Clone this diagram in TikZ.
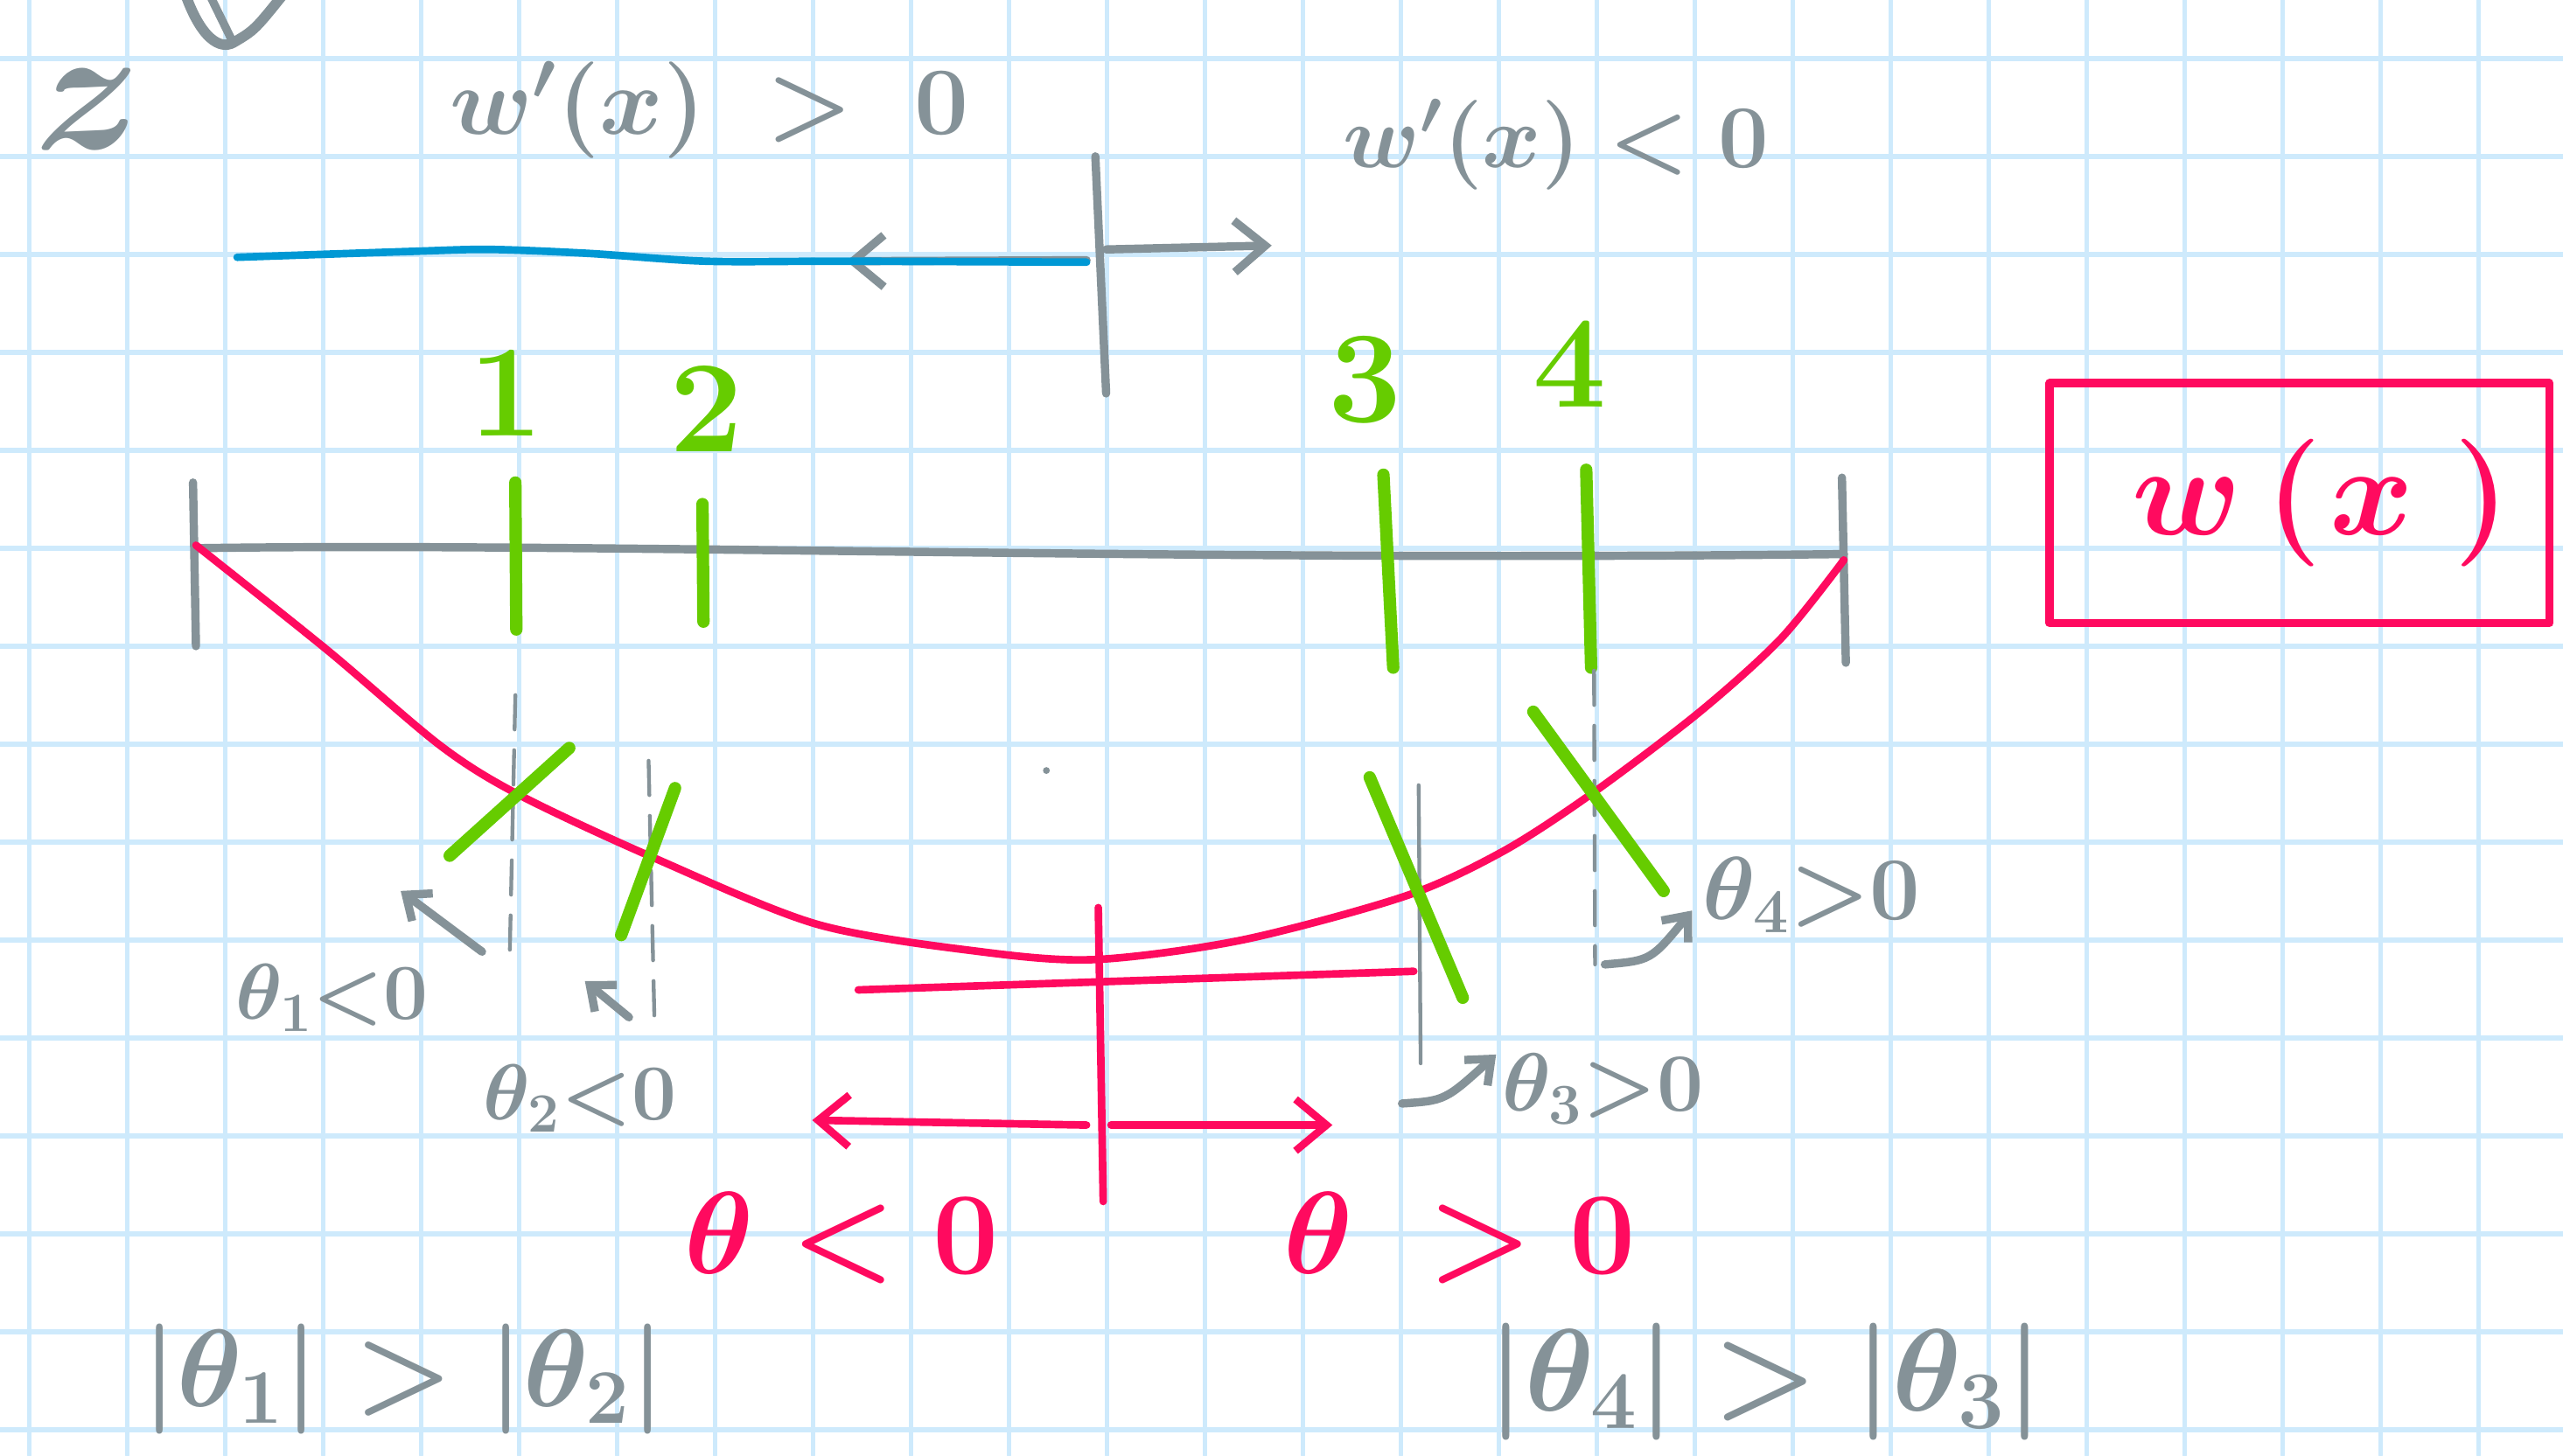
\RequirePackage{fix-cm}
\documentclass[tikz,border=0pt]{standalone}
\usepackage{amsmath}
\usepackage{xcolor}
\usetikzlibrary{arrows.meta, calc}

\definecolor{sketchgray}{RGB}{133,146,152}
\definecolor{sketchgreen}{RGB}{102,204,0}
\definecolor{sketchpink}{RGB}{255,10,95}
\definecolor{sketchblue}{RGB}{0,152,212}
\definecolor{paperline}{RGB}{206,234,252}

\begin{document}
\begin{tikzpicture}[
  line cap=round, line join=round,
  graypen/.style={draw=sketchgray, line width=2.4pt},
  hairline/.style={draw=sketchgray, line width=1.1pt},
  greenpen/.style={draw=sketchgreen, line width=3.6pt},
  pinkpen/.style={draw=sketchpink, line width=2.2pt},
  bluepen/.style={draw=sketchblue, line width=2.2pt},
  barb/.style={-{Straight Barb[length=9pt, width=15pt]}},
  smallbarb/.style={-{Straight Barb[length=6pt, width=10pt]}},
  grayword/.style={text=sketchgray, inner sep=0pt},
  greenword/.style={text=sketchgreen, inner sep=0pt, font=\fontsize{38}{42}\selectfont\bfseries},
  pinkword/.style={text=sketchpink, inner sep=0pt},
  bigsize/.style={font=\fontsize{34}{38}\selectfont\boldmath},
  smallsize/.style={font=\fontsize{23}{26}\selectfont\boldmath}
]

% ── Paper with grid ───────────────────────────────────────
\fill[white] (0,0) rectangle (26.16,14.857);
\useasboundingbox (0,0) rectangle (26.16,14.857);
\begin{scope}
  \clip (0,0) rectangle (26.16,14.857);
  \foreach \gx in {0,...,25}
    \draw[paperline, line width=1.2pt] (0.30+\gx,0) -- (0.30+\gx,14.857);
  \foreach \gy in {0,...,14}
    \draw[paperline, line width=1.4pt] (0,0.26+\gy) -- (26.16,0.26+\gy);
\end{scope}

% ── Top corner marks ──────────────────────────────────────
\draw[graypen, line width=3pt] (1.88,14.95) .. controls (2.05,14.45) and (2.25,14.35) .. (2.38,14.42)
      .. controls (2.6,14.55) .. (2.92,14.95);
\draw[graypen] (2.12,14.95) -- (2.36,14.46);
\node[grayword, font=\fontsize{52}{56}\selectfont\boldmath] (zmark) at (0.90,13.74) {$z$};

% ── Sign of w'(x) ─────────────────────────────────────────
\node[grayword, font=\fontsize{28}{32}\selectfont\boldmath] (wpos) at (7.24,13.73) {$w'(x) \;>\; 0$};
\node[grayword, font=\fontsize{26}{30}\selectfont\boldmath] (wneg) at (15.88,13.38) {$w'(x) < 0$};

\coordinate (tickTop) at (11.18,13.26);
\coordinate (tickBot) at (11.29,10.84);
\coordinate (tickL)   at (11.09,12.20);
\coordinate (tickR)   at (11.29,12.31);
\coordinate (headL)   at (8.64,12.19);
\coordinate (headR)   at (12.98,12.35);

\draw[graypen, barb] (tickL) -- (headL);
\draw[bluepen] plot[smooth] coordinates {(2.42,12.23) (4.2,12.29) (5.0,12.31) (6.0,12.27)
      (7.2,12.19) (8.6,12.19) (11.09,12.18)};
\draw[graypen] (tickTop) -- (tickBot);
\draw[graypen, barb] (tickR) -- (headR);

% ── Numbered points ───────────────────────────────────────
\node[greenword] (one)   at (5.17,10.84) {1};
\node[greenword] (two)   at (7.21,10.68) {2};
\node[greenword] (three) at (13.93,10.98) {3};
\node[greenword] (four)  at (16.02,11.14) {4};

% ── Axis ──────────────────────────────────────────────────
\coordinate (axL) at (2.00,9.26);
\coordinate (axR) at (18.82,9.20);
\draw[graypen] (axL) .. controls (6,9.32) and (12,9.12) .. (axR);
\draw[graypen] (1.97,9.93) -- (2.00,8.26);
\draw[graypen] (18.80,9.98) -- (18.84,8.09);

\draw[greenpen] (5.26,9.93)  -- (5.27,8.43);
\draw[greenpen] (7.17,9.71)  -- (7.18,8.51);
\draw[greenpen] (14.12,10.01) -- (14.22,8.04);
\draw[greenpen] (16.19,10.06) -- (16.24,8.04);

% ── w(x) curve ────────────────────────────────────────────
\draw[pinkpen] plot[smooth] coordinates {(2.00,9.29) (3.34,8.22) (4.50,7.24) (5.30,6.74)
      (6.67,6.10) (8.34,5.42) (10.01,5.14) (11.18,5.06) (12.68,5.26) (14.35,5.71)
      (15.35,6.17) (16.27,6.77) (17.35,7.59) (18.18,8.34) (18.82,9.14)};

% ── Verticals at the points ───────────────────────────────
\draw[hairline, dash pattern=on 10pt off 6pt] (5.26,7.76) -- (5.20,4.98);
\draw[hairline, dash pattern=on 10pt off 6pt] (6.62,7.09) -- (6.68,4.42);
\draw[hairline] (14.48,6.84) -- (14.50,4.00);
\draw[hairline, dash pattern=on 10pt off 6pt] (16.27,8.01) -- (16.28,5.01);

% ── Tangents ──────────────────────────────────────────────
\draw[greenpen] (4.59,6.12)  -- (5.81,7.22);
\draw[greenpen] (6.34,5.31)  -- (6.89,6.81);
\draw[greenpen] (13.98,6.92) -- (14.93,4.67);
\draw[greenpen] (15.65,7.59) -- (16.98,5.76);

% ── Angles ────────────────────────────────────────────────
\coordinate (a1s) at (4.92,5.14);  \coordinate (a1e) at (4.09,5.76);
\coordinate (a2s) at (6.42,4.47);  \coordinate (a2e) at (5.97,4.84);
\coordinate (a3s) at (14.31,3.59); \coordinate (a3e) at (15.27,4.09);
\coordinate (a4s) at (16.38,5.01); \coordinate (a4e) at (17.27,5.56);

\draw[graypen, smallbarb] (a1s) -- (a1e);
\draw[graypen, smallbarb] (a2s) -- (a2e);
\draw[graypen, smallbarb] (a3s) .. controls (14.75,3.62) .. (a3e);
\draw[graypen, smallbarb] (a4s) .. controls (16.85,5.05) .. (a4e);

\node[grayword, smallsize] (th1) at (3.39,4.67)  {$\theta_1{<}0$};
\node[grayword, smallsize] (th2) at (5.92,3.64)  {$\theta_2{<}0$};
\node[grayword, smallsize, font=\fontsize{24}{28}\selectfont\boldmath] (th3) at (16.36,3.74) {$\theta_3{>}0$};
\node[grayword, smallsize, font=\fontsize{26}{30}\selectfont\boldmath] (th4) at (18.49,5.72) {$\theta_4{>}0$};

\fill[sketchgray] (10.68,6.99) circle (0.035);

% ── Minimum and sign of theta ─────────────────────────────
\coordinate (flatL) at (8.76,4.75);
\coordinate (flatR) at (14.43,4.94);
\coordinate (minTop) at (11.21,5.59);
\coordinate (minBot) at (11.26,2.59);
\draw[pinkpen] (flatL) -- (flatR);
\draw[pinkpen] (minTop) -- (minBot);
\draw[pinkpen, barb] (11.09,3.37) -- (8.29,3.42);
\draw[pinkpen, barb] (11.34,3.37) -- (13.60,3.37);

\node[pinkword, bigsize] (thneg) at (8.59,2.22)  {$\theta < 0$};
\node[pinkword, bigsize] (thpos) at (14.90,2.22) {$\theta \mkern5mu> 0$};

% ── Comparisons ───────────────────────────────────────────
\node[grayword, font=\fontsize{32}{36}\selectfont\boldmath] (cmpL) at (4.12,0.78)  {$|\theta_1| > |\theta_2|$};
\node[grayword, font=\fontsize{34}{38}\selectfont\boldmath] (cmpR) at (18.02,0.75) {$|\theta_4| > |\theta_3|$};

% ── Label box ─────────────────────────────────────────────
\node[draw=sketchpink, line width=2.4pt, minimum width=5.1cm, minimum height=2.45cm,
      text=sketchpink, font=\fontsize{37}{40}\selectfont\boldmath] (wbox) at (23.47,9.72)
      {\hspace{0.44cm}$w\mkern3mu(\mkern1mu x\mkern5mu)$};

\end{tikzpicture}
\end{document}
